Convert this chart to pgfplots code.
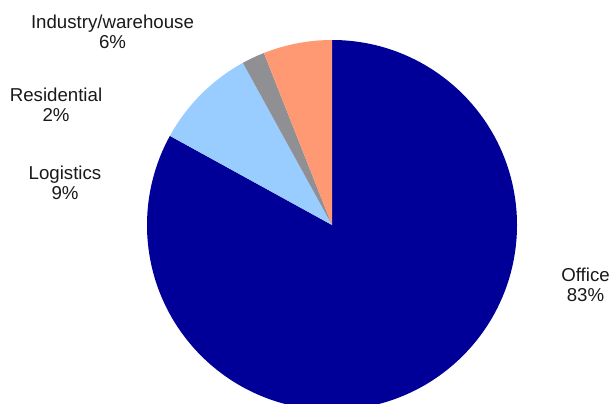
\documentclass[border=0pt]{standalone}
\usepackage{pgfplots}
\usepackage{pgfplotstable}
\pgfplotsset{compat=1.18}
\usepackage{fontspec}
\setmainfont{Liberation Sans}
\definecolor{cOffice}{HTML}{000099}
\definecolor{cLogistics}{HTML}{99CCFF}
\definecolor{cResidential}{HTML}{909094}
\definecolor{cIndustry}{HTML}{FF9973}
\pgfplotstableread{
name value color
Office 83 cOffice
Logistics 9 cLogistics
Residential 2 cResidential
Industry 6 cIndustry
}\piedata
\begin{document}
\begin{tikzpicture}
\begin{axis}[
  scale only axis, width=459.75pt, height=302.25pt,
  xmin=0, xmax=613, ymin=0, ymax=403,
  hide axis, clip=true,
]
\pgfplotstablegetrowsof{\piedata}
\pgfmathtruncatemacro{\nrows}{\pgfplotsretval-1}
\def\cumangle{90}
\pgfplotsforeachungrouped \i in {0,...,\nrows}{
  \pgfplotstablegetelem{\i}{value}\of{\piedata}
  \let\val\pgfplotsretval
  \pgfplotstablegetelem{\i}{color}\of{\piedata}
  \let\col\pgfplotsretval
  \pgfmathsetmacro{\startA}{\cumangle}
  \pgfmathsetmacro{\endA}{\cumangle-3.6*\val}
  \edef\temp{\noexpand\fill[\col] (axis cs:332,178) -- ++(\startA:185) arc[start angle=\startA, end angle=\endA, radius=185] -- cycle;}
  \temp
  \xdef\cumangle{\endA}
}
\node[anchor=base, font=\fontsize{14}{16}\selectfont, text=black!90] at (axis cs:112.5,374) {Industry/warehouse};
\node[anchor=base, font=\fontsize{14}{16}\selectfont, text=black!90] at (axis cs:112.5,354) {6\%};
\node[anchor=base, font=\fontsize{14}{16}\selectfont, text=black!90] at (axis cs:56,301) {Residential};
\node[anchor=base, font=\fontsize{14}{16}\selectfont, text=black!90] at (axis cs:56,281) {2\%};
\node[anchor=base, font=\fontsize{14}{16}\selectfont, text=black!90] at (axis cs:65,223) {Logistics};
\node[anchor=base, font=\fontsize{14}{16}\selectfont, text=black!90] at (axis cs:65,203) {9\%};
\node[anchor=base, font=\fontsize{14}{16}\selectfont, text=black!90] at (axis cs:585.5,121) {Office};
\node[anchor=base, font=\fontsize{14}{16}\selectfont, text=black!90] at (axis cs:585.5,101) {83\%};
\end{axis}
\pgfresetboundingbox
\path[use as bounding box] (current axis.south west) rectangle (current axis.north east);
\end{tikzpicture}
\end{document}
